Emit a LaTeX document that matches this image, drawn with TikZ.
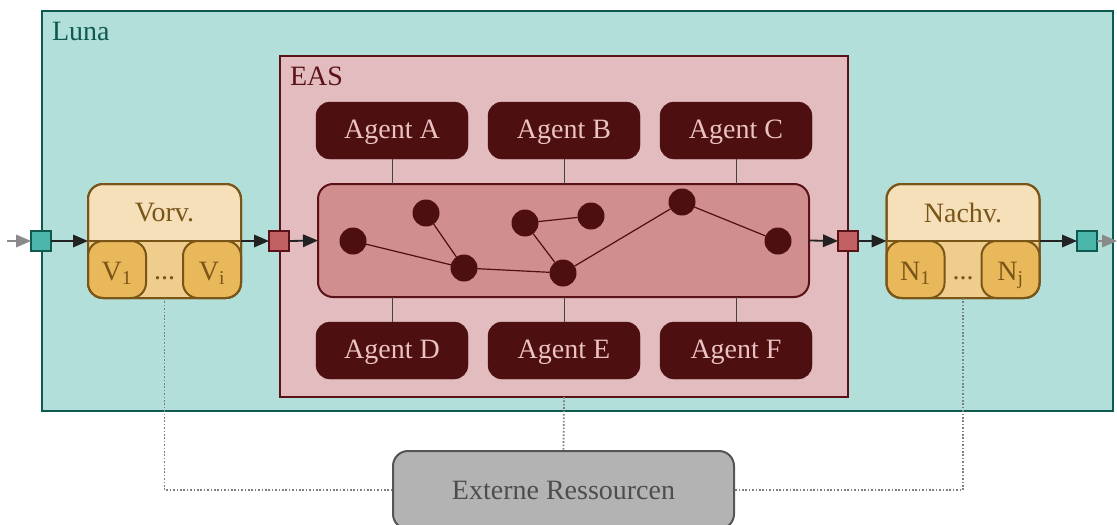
\documentclass[tikz,border=0pt]{standalone}
\usepackage{fontspec}
\setmainfont{Liberation Serif}
\usetikzlibrary{arrows.meta}
\definecolor{lunafill}{HTML}{B2DFDA}
\definecolor{lunaline}{HTML}{0E5A50}
\definecolor{easfill}{HTML}{E2BCBE}
\definecolor{easline}{HTML}{5A1218}
\definecolor{agentfill}{HTML}{4E0F11}
\definecolor{agenttext}{HTML}{EBC2C2}
\definecolor{netfill}{HTML}{D08E8E}
\definecolor{procfill}{HTML}{F5E0BA}
\definecolor{procband}{HTML}{EFCD8C}
\definecolor{procitem}{HTML}{E8B85A}
\definecolor{procline}{HTML}{7A5518}
\definecolor{tealport}{HTML}{4DB6AA}
\definecolor{redport}{HTML}{C06062}
\definecolor{extfill}{HTML}{B3B3B3}
\definecolor{extline}{HTML}{555555}
\definecolor{exttext}{HTML}{4D4D4D}
\definecolor{flowcol}{HTML}{222222}
\definecolor{feedcol}{HTML}{8A8A8A}
\definecolor{dotcol}{HTML}{7F7F7F}
\begin{document}
\begin{tikzpicture}[x=1pt,y=-1pt,
  every node/.style={font=\fontsize{28}{32}\selectfont, inner sep=0pt, outer sep=0pt},
  lunabox/.style={draw=lunaline, fill=lunafill, line width=2.4pt, minimum width=1071pt, minimum height=400pt},
  easbox/.style={draw=easline, fill=easfill, line width=2pt, minimum width=568pt, minimum height=341pt},
  agentbox/.style={draw=agentfill, fill=agentfill, text=agenttext, rounded corners=14pt,
    minimum width=152pt, minimum height=57pt, text height=15pt, text depth=0pt},
  netbox/.style={draw=easline, fill=netfill, line width=2pt, rounded corners=15pt,
    minimum width=491pt, minimum height=113pt},
  dot/.style={circle, fill=agentfill, minimum size=27pt},
  netlink/.style={draw=agentfill, line width=1.2pt},
  agentlink/.style={draw=flowcol!85, line width=1pt},
  procbox/.style={draw=procline, fill=procfill, line width=2pt, rounded corners=15pt,
    minimum width=153pt, minimum height=114pt},
  procitembox/.style={draw=procline, fill=procitem, line width=2pt, rounded corners=15pt,
    minimum width=58pt, minimum height=57pt, text=procline, text height=21pt, text depth=0pt},
  tport/.style={draw=lunaline, fill=tealport, line width=1.8pt, minimum size=20pt},
  rport/.style={draw=easline, fill=redport, line width=1.8pt, minimum size=20pt},
  flow/.style={draw=flowcol, line width=1.8pt, -{Triangle[length=15pt,width=12.5pt]}},
  feed/.style={draw=feedcol, line width=1.8pt, -{Triangle[length=15pt,width=12.5pt]}},
  extlink/.style={draw=dotcol, line width=1.8pt, dash pattern=on 1.6pt off 1.8pt},
  extbox/.style={draw=extline, fill=extfill, text=exttext, line width=2pt, rounded corners=15pt,
    minimum width=341pt, minimum height=78pt, text height=18pt, text depth=0pt}]

\useasboundingbox (0,0) rectangle (1117,525);

% outer system and its label
\node[lunabox] (luna) at (577.5,211) {};
\node[anchor=base west, text=lunaline] (lunalabel) at (52,40) {Luna};

% agent system
\node[easbox] (eas) at (564,226.5) {};
\node[anchor=base west, text=easline] (easlabel) at (290,85) {EAS};

\node[netbox] (net) at (563.5,240.5) {};

\node[agentbox] (agA) at (392,130.5) {Agent A};
\node[agentbox] (agB) at (564,130.5) {Agent B};
\node[agentbox] (agC) at (736,130.5) {Agent C};
\node[agentbox] (agD) at (392,350.5) {Agent D};
\node[agentbox] (agE) at (564,350.5) {Agent E};
\node[agentbox] (agF) at (736,350.5) {Agent F};

\foreach \a in {agA,agB,agC}
  \draw[agentlink] (\a.south) -- (\a |- net.north);
\foreach \a in {agD,agE,agF}
  \draw[agentlink] (\a.north) -- (\a |- net.south);

% network of cooperating agents
\node[dot] (d1) at (353,241) {};
\node[dot] (d2) at (426,213) {};
\node[dot] (d3) at (464,268) {};
\node[dot] (d4) at (525,223) {};
\node[dot] (d5) at (591,216) {};
\node[dot] (d6) at (563,273) {};
\node[dot] (d7) at (682,202) {};
\node[dot] (d8) at (778,241) {};
\draw[netlink] (d1) -- (d3);
\draw[netlink] (d2) -- (d3);
\draw[netlink] (d3) -- (d6);
\draw[netlink] (d4) -- (d5);
\draw[netlink] (d4) -- (d6);
\draw[netlink] (d6) -- (d7);
\draw[netlink] (d7) -- (d8);

% pre-processing
\node[procbox] (vorv) at (164.5,241) {};
\begin{scope}
  \clip[rounded corners=15pt] (vorv.north west) rectangle (vorv.south east);
  \fill[procband] (vorv.west) rectangle (vorv.south east);
\end{scope}
\draw[procline, line width=2pt] (vorv.west) -- (vorv.east);
\node[text=procline] (vorvlabel) at (164.5,213) {Vorv.};
\node[procitembox] (v1) at (117,269.5) {V\textsubscript{1}};
\node[procitembox] (vi) at (212,269.5) {V\textsubscript{i}};
\node[anchor=base, text=procline] (vdots) at (164.5,279) {...};
\draw[procline, line width=2pt, rounded corners=15pt] (vorv.north west) rectangle (vorv.south east);

% post-processing
\node[procbox] (nachv) at (963,241) {};
\begin{scope}
  \clip[rounded corners=15pt] (nachv.north west) rectangle (nachv.south east);
  \fill[procband] (nachv.west) rectangle (nachv.south east);
\end{scope}
\draw[procline, line width=2pt] (nachv.west) -- (nachv.east);
\node[text=procline] (nachvlabel) at (963,213) {Nachv.};
\node[procitembox] (n1) at (915.5,269.5) {N\textsubscript{1}};
\node[procitembox] (nj) at (1010.5,269.5) {N\textsubscript{j}};
\node[anchor=base, text=procline] (ndots) at (963,279) {...};
\draw[procline, line width=2pt, rounded corners=15pt] (nachv.north west) rectangle (nachv.south east);

% ports
\node[tport] (tin) at (41,241) {};
\node[rport] (rin) at (279,241) {};
\node[rport] (rout) at (848,241) {};
\node[tport] (tout) at (1087,241) {};

% data flow
\coordinate (src) at (7,241);
\coordinate (snk) at (1117,241);
\draw[feed] (src) -- (tin.west);
\draw[flow] (tin.east) -- (vorv.west);
\draw[flow] (vorv.east) -- (rin.west);
\draw[flow] (rin.east) -- (net.west);
\draw[flow] (net.east) -- (rout.west);
\draw[flow] (rout.east) -- (nachv.west);
\draw[flow] (nachv.east) -- (tout.west);
\draw[feed] (tout.east) -- (snk);

% external resources
\node[extbox] (ext) at (563.5,490) {Externe Ressourcen};
\draw[extlink] (vorv.south) |- (ext.west);
\draw[extlink] (nachv.south) |- (ext.east);
\draw[extlink] (eas.south) -- (ext.north);
\end{tikzpicture}
\end{document}
